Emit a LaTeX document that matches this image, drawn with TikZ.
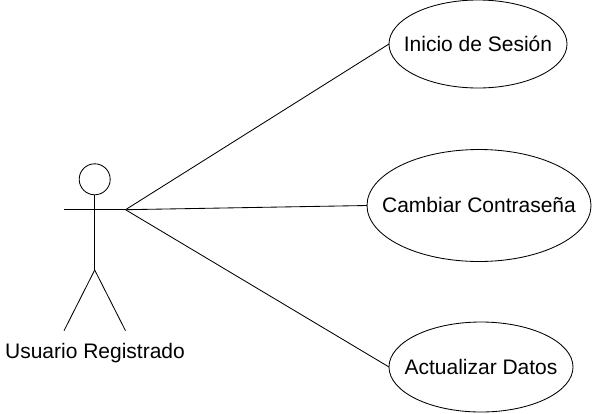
\documentclass[tikz,border=0pt]{standalone}
\usepackage{fontspec}
\setmainfont{Liberation Sans}
\usetikzlibrary{shapes.geometric}
\newcommand{\nowide}[1]{\makebox[0pt]{\raisebox{0.8pt}{#1}}}
\tikzset{
  uc/.style n args={2}{draw=black,line width=0.85pt,ellipse,inner sep=0pt,outer sep=0pt,minimum width=#1,minimum height=#2,font=\fontsize{21}{25}\selectfont},
  ln/.style={draw=black,line width=0.85pt},
  lab/.style={inner sep=0pt,font=\fontsize{21}{25}\selectfont}}
\begin{document}
\begin{tikzpicture}[x=1pt,y=-1pt]
\useasboundingbox (0,0) rectangle (593,413);
\node[uc={178pt}{88pt}] (a) at (478,44) {\nowide{Inicio de Sesión}};
\node[uc={224pt}{112pt}] (b) at (479,205.5) {\nowide{Cambiar Contraseña}};
\node[uc={184pt}{90pt}] (c) at (481,367) {\nowide{Actualizar Datos}};
\node[draw=black,line width=0.85pt,circle,minimum size=31pt,inner sep=0pt,outer sep=0pt] (head) at (94.7,179.3) {};
\coordinate (hip) at (94.7,270);
\coordinate (la) at (64,209.7);
\coordinate (ra) at (125.5,209.7);
\coordinate (lf) at (64,330.7);
\coordinate (rf) at (125.5,330.7);
\draw[ln] (head.south) -- (hip);
\draw[ln] (la) -- (ra);
\draw[ln] (hip) -- (lf);
\draw[ln] (hip) -- (rf);
\node[lab] (u) at (95,353) {Usuario Registrado};
\draw[ln] (ra) -- (a.west);
\draw[ln] (ra) -- (b.west);
\draw[ln] (ra) -- (c.west);
\end{tikzpicture}
\end{document}
